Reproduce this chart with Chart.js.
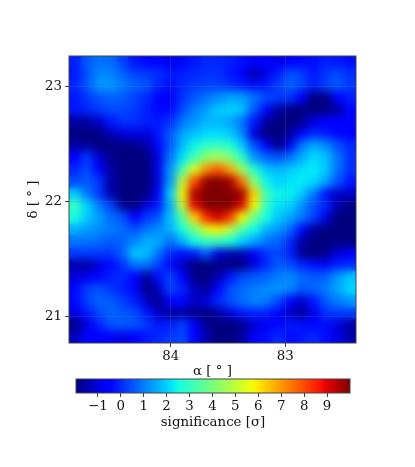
<!DOCTYPE html>
<html>
<head>
<meta charset="utf-8">
<style>
  html, body { margin: 0; padding: 0; background: #fff; }
  #wrap { position: relative; width: 415px; height: 467px; overflow: hidden; }
  canvas { position: absolute; left: 0; }
</style>
<script src="https://cdn.jsdelivr.net/npm/chart.js@4"></script>
</head>
<body>
<div id="wrap">
  <canvas id="map-chart" width="415" height="467" style="top:0"></canvas>
  <canvas id="bar-chart" width="415" height="97" style="top:370px"></canvas>
</div>
<script>
// DATA
const alphaValues = [84.83, 84.72, 84.62, 84.52, 84.41, 84.31, 84.20, 84.10, 84.00, 83.89, 83.79, 83.68, 83.58, 83.47, 83.37, 83.27, 83.16, 83.06, 82.95, 82.85, 82.75, 82.64, 82.54, 82.43];
const deltaValues = [23.21, 23.10, 23.00, 22.90, 22.79, 22.69, 22.58, 22.48, 22.38, 22.27, 22.17, 22.06, 21.96, 21.86, 21.75, 21.65, 21.54, 21.44, 21.34, 21.23, 21.13, 21.02, 20.92, 20.82];
// significance, one row per delta, one column per alpha
const significance = [
  [-0.1, 0.6, 0.9, 0.8, 0.3, -0.2, -0.4, -0.6, -0.8, -0.4, -0.2, 0.0, 0.0, -0.1, -0.3, -0.6, -0.6, -0.8, -0.6, -0.4, -0.3, -0.1, -0.2, -0.3],
  [-0.2, 0.5, 1.1, 1.1, 0.7, 0.3, 0.2, 0.1, -0.2, -0.1, 0.0, 0.1, 0.1, -0.2, -0.6, -1.5, -0.9, -0.1, 0.5, 0.3, -0.2, 0.2, 0.4, 0.1],
  [0.0, 0.6, 1.3, 1.3, 1.0, 0.7, 0.5, 0.0, -0.3, 0.0, 0.2, 0.3, 0.3, 0.1, -0.1, -0.3, -0.2, 0.3, 0.7, 0.4, -0.1, 0.3, 0.6, 0.2],
  [-0.2, 0.2, 0.5, 0.7, 0.6, 0.3, 0.0, -0.5, -0.7, 0.1, 0.6, 0.9, 1.2, 1.5, 1.4, 0.9, 0.4, 0.2, 0.1, -0.7, -1.9, -1.9, -0.5, -0.1],
  [-0.2, 0.0, 0.2, 0.4, 0.4, 0.2, -0.1, -0.4, -0.4, 0.4, 1.0, 1.4, 1.9, 2.0, 1.9, 0.6, -0.4, -1.5, -1.95, -1.95, -1.95, -1.95, -1.6, -0.4],
  [-1.6, -1.6, -1.2, -0.2, 0.1, 0.1, -0.1, -0.2, 0.1, 0.9, 1.3, 1.7, 1.7, 1.5, 0.9, -0.2, -1.6, -1.95, -1.95, -1.8, -0.9, -0.6, -0.5, -0.4],
  [-1.95, -1.95, -1.9, -1.4, -1.0, -0.9, -1.0, -0.2, 0.6, 1.5, 1.8, 2.1, 2.1, 1.9, 1.2, -1.0, -1.95, -1.95, -1.6, -0.5, 0.0, -0.1, -0.4, -0.5],
  [-1.6, -1.7, -1.95, -1.95, -1.9, -1.8, -1.5, -0.4, 0.6, 1.7, 2.4, 2.9, 3.0, 2.7, 1.9, 0.5, -0.6, -1.8, -0.8, 0.9, 1.5, 1.2, 0.5, 0.0],
  [-0.5, 0.2, -1.0, -1.8, -1.95, -1.95, -1.9, -0.9, 0.9, 2.2, 3.2, 4.3, 4.6, 4.0, 2.9, 1.3, 0.7, 0.5, 0.9, 1.5, 2.1, 1.8, 0.9, 0.1],
  [0.0, 0.4, -0.6, -1.6, -1.95, -1.95, -1.95, -0.8, 1.3, 3.3, 5.4, 7.2, 7.8, 6.8, 4.5, 2.8, 1.9, 1.7, 1.9, 2.2, 2.3, 1.9, 0.9, 0.1],
  [0.4, 0.6, 0.2, -1.5, -1.95, -1.95, -1.95, -1.0, 1.4, 5.0, 8.0, 9.8, 10.0, 9.6, 7.5, 4.2, 2.4, 2.0, 2.2, 2.3, 2.1, 1.5, 0.5, -0.2],
  [1.9, 0.9, 0.2, -1.5, -1.95, -1.95, -1.9, -0.7, 2.0, 5.8, 9.5, 10.0, 10.0, 10.0, 9.6, 6.3, 3.2, 2.4, 2.4, 1.9, 1.0, -0.3, -1.2, -1.2],
  [3.0, 2.0, 1.0, 0.3, -1.8, -1.95, -1.0, -0.2, 1.6, 5.2, 8.9, 10.0, 10.0, 10.0, 9.0, 5.8, 3.0, 2.2, 2.0, 1.3, 0.5, 0.0, -1.4, -1.9],
  [2.6, 1.9, 1.4, 0.8, 0.5, -0.5, 0.2, 0.5, 1.8, 3.5, 6.3, 8.5, 9.2, 8.2, 5.8, 3.8, 2.6, 1.9, 1.5, 1.0, 0.3, -0.9, -1.95, -1.95],
  [1.6, 1.4, 1.2, 1.0, 0.8, 0.5, 0.9, 1.2, 1.6, 2.6, 3.9, 5.4, 5.9, 4.9, 3.4, 2.5, 1.7, 1.3, 0.8, -0.4, -1.6, -1.95, -1.95, -1.95],
  [0.9, 0.9, 0.8, 0.6, 0.7, 1.1, 1.6, 1.5, 0.9, 1.6, 2.5, 3.0, 3.0, 2.6, 2.0, 1.5, 0.9, 0.7, 0.0, -1.5, -1.95, -1.95, -1.9, -1.9],
  [0.2, 0.2, 0.2, 0.2, 0.7, 1.9, 1.8, 0.9, 0.0, -0.3, -0.2, 0.6, -1.0, -1.4, -1.4, -0.8, 0.1, 0.4, -0.1, -1.7, -1.95, -1.9, -1.0, -0.7],
  [-1.5, -1.6, -1.0, -0.4, 0.1, 0.9, 0.9, 0.3, -0.4, -1.3, -1.95, -1.95, -1.95, -1.95, -1.95, -1.0, 0.0, 0.6, 0.4, 0.0, -0.3, -0.4, -0.1, 0.0],
  [-1.0, -0.8, -0.4, -0.1, 0.0, -0.5, -1.7, -0.3, 0.3, -0.6, -1.8, -1.95, -1.4, -0.2, 0.4, 0.6, 0.7, 1.0, 1.2, 0.8, 0.6, 0.7, 1.3, 1.9],
  [-0.4, 0.3, 0.5, 0.2, -0.1, -0.4, -1.9, -1.2, 0.3, 0.0, -1.3, -1.7, -0.4, 0.5, 0.8, 1.0, 1.2, 1.3, 1.1, 0.6, 0.7, 1.0, 1.5, 2.1],
  [-0.4, 0.3, 0.7, 0.6, 0.3, -0.1, -1.2, -1.8, -0.5, -0.4, -1.2, -1.0, 0.0, 0.5, 0.8, 1.1, 1.0, 0.4, -0.5, -1.2, -0.2, 0.6, 1.0, 1.3],
  [-0.9, -0.2, 0.4, 0.7, 0.6, 0.4, -0.2, -1.2, -1.7, -1.5, -1.9, -1.9, -1.6, -1.0, -0.2, -0.1, -0.1, -0.6, -1.2, -1.7, -0.8, 0.1, 0.2, 0.2],
  [-1.9, -0.9, -0.1, 0.5, 0.6, 0.5, 0.2, -0.2, -0.1, 0.3, -0.5, -1.8, -1.95, -1.95, -1.8, -1.1, -0.7, -0.4, -0.2, -0.3, -0.4, -0.3, -1.0, -1.6],
  [-1.3, -0.5, -0.5, -0.7, -0.9, -0.7, -0.2, 0.0, 0.2, 0.4, -0.4, -1.5, -1.95, -1.95, -1.6, -0.7, -0.3, 0.0, -0.3, -0.2, 0.0, -0.3, -0.9, -1.5]
];
const alphaTicks = [84, 83];
const deltaTicks = [21, 22, 23];
const barTicks = [-1, 0, 1, 2, 3, 4, 5, 6, 7, 8, 9];
const barRange = [-1.95, 10];

const FONT = '"DejaVu Serif"';
const FONT_SIZE = 13.33;
const TEXT_COLOR = '#111';
const GRID_COLOR = 'rgba(128,128,128,0.2)';

// matplotlib jet
function jet(v){
    const t = Math.min(1, Math.max(0, (v - barRange[0]) / (barRange[1] - barRange[0])));
    let r = 0, g = 0, b = 0;
    if(t > 0.89) r = 1 - 0.5 * (t - 0.89) / 0.11;
    else if(t > 0.66) r = 1;
    else if(t > 0.35) r = (t - 0.35) / 0.31;
    if(t > 0.91) g = 0;
    else if(t > 0.64) g = 1 - (t - 0.64) / 0.27;
    else if(t > 0.375) g = 1;
    else if(t > 0.125) g = (t - 0.125) / 0.25;
    if(t < 0.11) b = 0.5 + 0.5 * t / 0.11;
    else if(t < 0.34) b = 1;
    else if(t < 0.65) b = 1 - (t - 0.34) / 0.31;
    return `rgb(${Math.round(r * 255)},${Math.round(g * 255)},${Math.round(b * 255)})`;
}

// the map was plotted with a smooth interpolation, soften the cells the same way
const smoothCells = {
    id: 'smoothCells',
    afterDatasetsDraw(chart){
        const { ctx, chartArea: a, canvas } = chart;
        const w = a.right - a.left, h = a.bottom - a.top;
        ctx.save();
        ctx.beginPath();
        ctx.rect(a.left, a.top, w, h);
        ctx.clip();
        ctx.filter = 'blur(4.5px)';
        ctx.drawImage(canvas, a.left, a.top, w, h, a.left, a.top, w, h);
        ctx.restore();
    }
};

const frame = {
    id: 'frame',
    afterDraw(chart){
        const { ctx, chartArea: a } = chart;
        ctx.save();
        ctx.strokeStyle = '#444';
        ctx.lineWidth = 1;
        ctx.strokeRect(a.left, a.top, a.right - a.left, a.bottom - a.top);
        ctx.restore();
    }
};

const cells = [];
deltaValues.forEach((d, row) => {
    alphaValues.forEach((al, col) => {
        cells.push({ x: al, y: d, v: significance[row][col] });
    });
});

new Chart(document.getElementById('map-chart'), {
    type: 'scatter',
    plugins: [smoothCells, frame],
    data: {
        datasets: [{
            data: cells,
            pointStyle: 'rect',
            borderWidth: 0,
            backgroundColor: ctx => jet(ctx.raw.v),
            pointRadius: ctx => {
                const x = ctx.chart.scales.x;
                const side = Math.abs(x.getPixelForValue(alphaValues[0]) - x.getPixelForValue(alphaValues[1]));
                return (side + 1) * Math.SQRT1_2;
            }
        }]
    },
    options: {
        responsive: false,
        animation: false,
        devicePixelRatio: 1,
        layout: { padding: { top: 56, right: 59, bottom: 87, left: 0 } },
        plugins: { legend: { display: false }, tooltip: { enabled: false } },
        scales: {
            x: {
                type: 'linear',
                reverse: true,
                min: 82.383,
                max: 84.887,
                afterBuildTicks: s => { s.ticks = alphaTicks.map(value => ({ value })); },
                afterFit: s => { s.height = 37; },
                border: { display: false },
                grid: { z: 1, color: GRID_COLOR, tickColor: '#444', tickLength: 4, lineWidth: 1 },
                ticks: { color: TEXT_COLOR, font: { family: FONT, size: FONT_SIZE }, padding: 2, maxRotation: 0, callback: v => String(v) },
                title: { display: true, text: 'α [ ° ]', color: TEXT_COLOR, font: { family: FONT, size: FONT_SIZE }, padding: { top: 1, bottom: 0 } }
            },
            y: {
                type: 'linear',
                min: 20.77,
                max: 23.265,
                afterBuildTicks: s => { s.ticks = deltaTicks.map(value => ({ value })); },
                afterFit: s => { s.width = 69; },
                border: { display: false },
                grid: { z: 1, color: GRID_COLOR, tickColor: '#444', tickLength: 4, lineWidth: 1 },
                ticks: { color: TEXT_COLOR, font: { family: FONT, size: FONT_SIZE }, padding: 3, callback: v => String(v) },
                title: { display: true, text: 'δ [ ° ]', color: TEXT_COLOR, font: { family: FONT, size: FONT_SIZE }, padding: { top: 26, bottom: 0 } }
            }
        }
    }
});

// COLOUR BAR
new Chart(document.getElementById('bar-chart'), {
    type: 'bar',
    plugins: [frame],
    data: {
        labels: ['significance'],
        datasets: [{
            data: [barRange],
            barPercentage: 1,
            categoryPercentage: 1,
            backgroundColor: ctx => {
                const area = ctx.chart.chartArea;
                if(!area) return '#000';
                const g = ctx.chart.ctx.createLinearGradient(area.left, 0, area.right, 0);
                const span = barRange[1] - barRange[0];
                for(const t of [0, 0.11, 0.125, 0.34, 0.35, 0.375, 0.5, 0.64, 0.65, 0.66, 0.89, 0.91, 1]){
                    g.addColorStop(t, jet(barRange[0] + t * span));
                }
                return g;
            }
        }]
    },
    options: {
        indexAxis: 'y',
        responsive: false,
        animation: false,
        devicePixelRatio: 1,
        layout: { padding: { top: 9, right: 65, bottom: 36, left: 76 } },
        plugins: { legend: { display: false }, tooltip: { enabled: false } },
        scales: {
            x: {
                type: 'linear',
                min: barRange[0],
                max: barRange[1],
                afterBuildTicks: s => { s.ticks = barTicks.map(value => ({ value })); },
                afterFit: s => { s.height = 38; },
                border: { display: false },
                grid: { drawOnChartArea: false, tickColor: '#444', tickLength: 4 },
                ticks: { color: TEXT_COLOR, font: { family: FONT, size: FONT_SIZE }, padding: 2, maxRotation: 0, autoSkip: false, callback: v => String(v).replace('-', '−') },
                title: { display: true, text: 'significance [σ]', color: TEXT_COLOR, font: { family: FONT, size: FONT_SIZE }, padding: { top: 1, bottom: 0 } }
            },
            y: { display: false }
        }
    }
});
</script>
</body>
</html>
